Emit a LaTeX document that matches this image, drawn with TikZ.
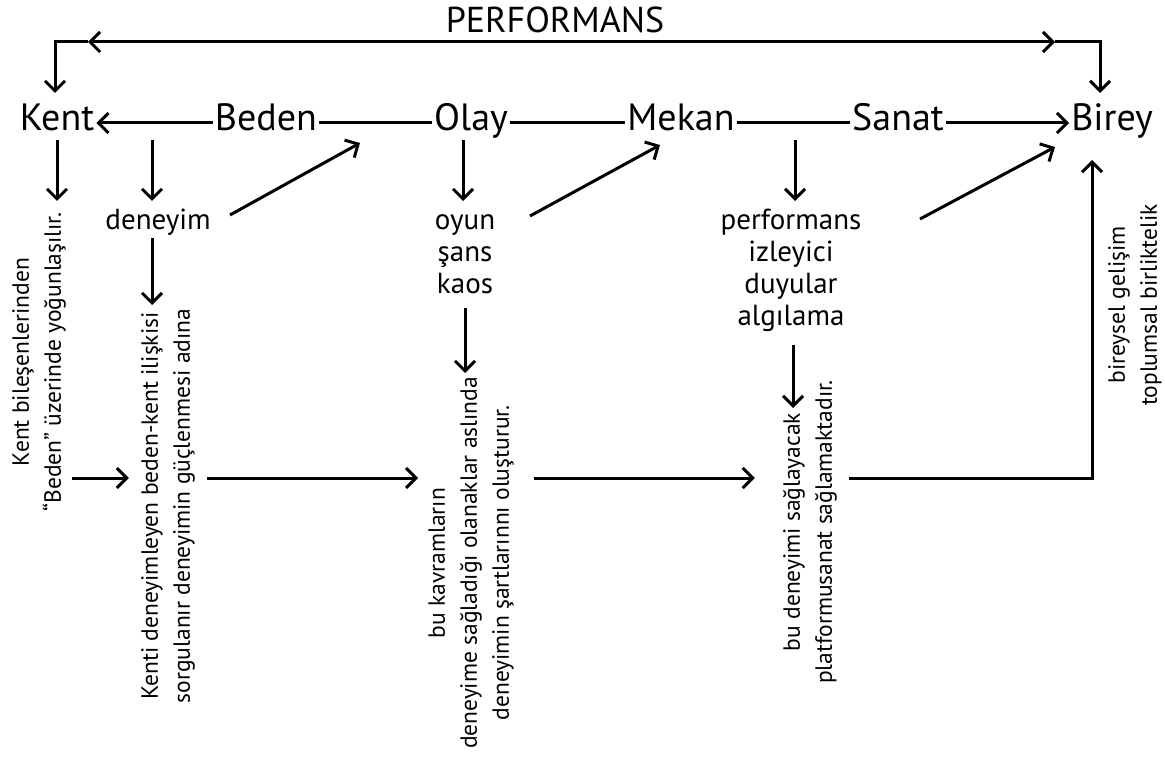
\documentclass[tikz,border=0pt]{standalone}
\usepackage{fontspec}
\setmainfont{PT Sans}
\usetikzlibrary{arrows.meta}

\begin{document}
\begin{tikzpicture}[x=1pt, y=-1pt,
    ok/.style={-{Straight Barb[length=10pt,width=20pt]}, line width=3pt},
    okiki/.style={{Straight Barb[length=10pt,width=20pt]}-{Straight Barb[length=10pt,width=20pt]}, line width=3pt},
    cizgi/.style={line width=3pt},
    bas/.style={font=\fontsize{38}{44}\selectfont, inner sep=2pt, anchor=base},
    alt/.style={font=\fontsize{29}{34}\selectfont, inner sep=2pt, anchor=base},
    dik/.style={rotate=90, align=center, inner sep=2pt, font=\fontsize{23.5}{32}\selectfont}]
    \useasboundingbox (0,0) rectangle (1165,767);

    % ana satir
    \node (perf) at (555,20) {\fontsize{36}{40}\selectfont PERFORMANS};
    \node[bas] (kent) at (57,131) {Kent};
    \node[bas] (beden) at (266,131) {Beden};
    \node[bas] (olay) at (471,131) {Olay};
    \node[bas] (mekan) at (681,131) {Mekan};
    \node[bas] (sanat) at (898,131) {Sanat};
    \node[bas] (birey) at (1112,131) {Birey};

    % ikinci satir
    \node[alt] (deneyim) at (158,230) {deneyim};
    \node[alt] (oyun) at (465,230) {oyun};
    \node[alt] (sans) at (465,262) {şans};
    \node[alt] (kaos) at (465,294) {kaos};
    \node[alt] (perfo) at (791,230) {performans};
    \node[alt] (izleyici) at (791,262) {izleyici};
    \node[alt] (duyular) at (791,294) {duyular};
    \node[alt] (algilama) at (791,326) {algılama};

    % dik yazilar
    \node[dik] (kentyazi) at (39,362) {Kent bileşenlerinden\\“Beden” üzerinde yoğunlaşılır.};
    \node[dik] (kentiyazi) at (168,506) {Kenti deneyimleyen beden-kent ilişkisi\\sorgulanır deneyimin güçlenmesi adına};
    \node[dik] (kavram) at (471,563) {bu kavramların\\deneyime sağladığı olanaklar aslında\\deneyimin şartlarınnı oluşturur.};
    \node[dik] (deneyimi) at (810,532) {bu deneyimi sağlayacak\\platformusanat sağlamaktadır.};
    \node[dik] (bireysel) at (1135,305) {bireysel gelişim\\toplumsal birliktelik};

    \coordinate (solok) at (88,42);
    \coordinate (sagok) at (1055,42);
    \coordinate (kentust) at (55,93);
    \coordinate (bireyust) at (1100,93);
    \coordinate (sira) at (0,123);
    \coordinate (hat) at (0,478);
    \coordinate (u1) at (360,143);
    \coordinate (u2) at (660,145);
    \coordinate (u3) at (1055,147);
    \coordinate (yukari) at (1092,160);

    % ust ok
    \draw[okiki] (solok) -- (sagok);
    \draw[ok] (solok) -| (kentust);
    \draw[ok] (sagok) -| (bireyust);

    % yatay baglar
    \draw[ok] (beden.west |- sira) -- (kent.east |- sira);
    \draw[cizgi] (beden.east |- sira) -- (olay.west |- sira);
    \draw[cizgi] (olay.east |- sira) -- (mekan.west |- sira);
    \draw[cizgi] (mekan.east |- sira) -- (sanat.west |- sira);
    \draw[ok] (sanat.east |- sira) -- (birey.west |- sira);

    % asagi oklar
    \draw[ok] (57,140) -- ++(0,61);
    \draw[ok] (152,140) -- ++(0,61);
    \draw[ok] (463,140) -- ++(0,61);
    \draw[ok] (795,140) -- ++(0,61);
    \draw[ok] (152,238) -- ++(0,67);
    \draw[ok] (465,308) -- ++(0,65);
    \draw[ok] (793,345) -- ++(0,63);

    % capraz oklar
    \draw[ok] (230,215) -- (u1);
    \draw[ok] (530,216) -- (u2);
    \draw[ok] (920,219) -- (u3);

    % alt oklar
    \draw[ok] ([xshift=4pt]kentyazi.south |- hat) -- ([xshift=-10pt]kentiyazi.north |- hat);
    \draw[ok] ([xshift=10pt]kentiyazi.south |- hat) -- ([xshift=-8pt]kavram.north |- hat);
    \draw[ok] ([xshift=18pt]kavram.south |- hat) -- ([xshift=-26pt]deneyimi.north |- hat);
    \draw[ok] ([xshift=10pt]deneyimi.south |- hat) -| (yukari);
\end{tikzpicture}
\end{document}
